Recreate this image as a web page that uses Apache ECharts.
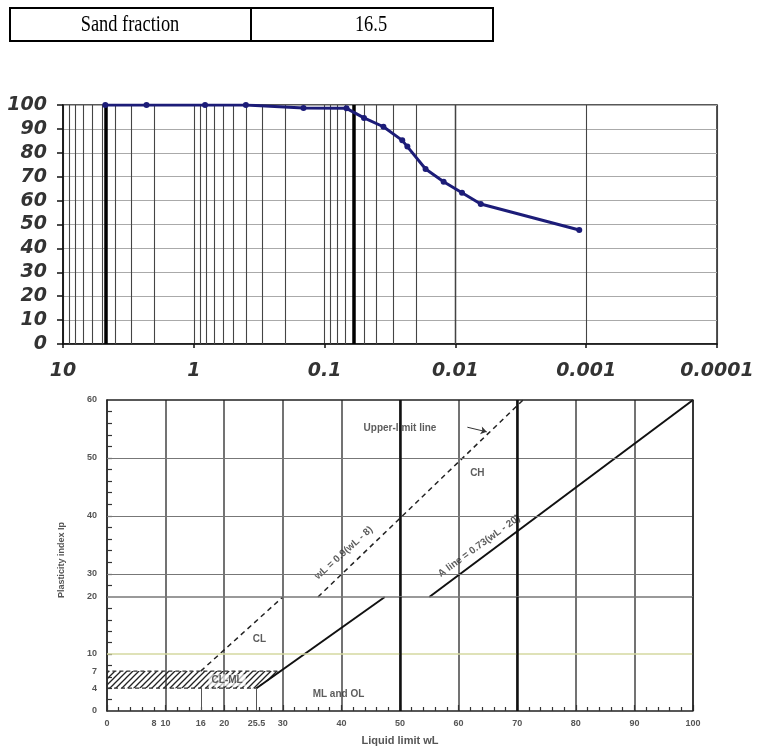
<!DOCTYPE html>
<html>
<head>
<meta charset="utf-8">
<script src="https://cdn.jsdelivr.net/npm/echarts@6/dist/echarts.min.js"></script>
<style>
html, body { margin: 0; padding: 0; background: #fff; }
#main { width: 759px; height: 747px; }
</style>
</head>
<body>
<div id="main"></div>
<script>
// table row above the charts
var tableLabel = 'Sand fraction';
var tableValue = '16.5';

// grading curve: particle size (mm) vs percent passing
var grainSize = [4.75, 2.3, 0.82, 0.4, 0.145, 0.068, 0.05, 0.0355, 0.0255, 0.0233, 0.0169, 0.0123, 0.0089, 0.0064, 0.00113];
var passing   = [100, 100, 100, 100, 98.7, 98.6, 94.6, 90.9, 85.2, 82.6, 73.2, 67.9, 63.3, 58.6, 47.7];
var boundarySizes = [4.75, 0.06, 0.002];
var minorFactors = [2, 3, 4, 5, 6, 7, 8, 9];
var decades = [1, 0.1, 0.01, 0.001, 0.0001];

// plasticity chart
var llLabels = [0, 8, 10, 16, 20, 25.5, 30, 40, 50, 60, 70, 80, 90, 100];
var piLabelsLow = [0, 4, 7, 10, 20];
var piLabelsHigh = [30, 40, 50, 60];
var piTicksLow = [2, 4, 6, 8, 10, 12, 14, 16, 18];
var piTicksHigh = [28, 30, 32, 34, 36, 38, 40, 42, 44, 46, 48, 50, 52, 54, 56, 58];
var aLineLow = [[25.5, 4], [47.4, 20]];
var aLineHigh = [[55, 26], [100, 60]];
var uLineLow = [[16, 7], [30, 20]];
var uLineHigh = [[36, 26], [71, 60]];
var hatchZone = [[0, 4], [25.5, 4], [29.6, 7], [0, 7]];
var notesLow = [
  { text: 'CL', at: [26, 12.6] },
  { text: 'CL-ML', at: [20.5, 5.4], bg: true },
  { text: 'ML and OL', at: [39.5, 3] }
];
var notesHigh = [
  { text: 'Upper-limit line', at: [50, 55.2] },
  { text: 'CH', at: [63.2, 47.4] },
  { text: 'A line = 0.73(wL - 20)', at: [63.5, 34.8], rotate: 36 },
  { text: 'wL = 0.9(wL - 8)', at: [40.4, 33.6], rotate: 42 }
];

var myChart = echarts.init(document.getElementById('main'));

// diagonal hatching for the CL-ML band
var hatch = document.createElement('canvas');
hatch.width = 6; hatch.height = 6;
var hc = hatch.getContext('2d');
hc.strokeStyle = '#222';
hc.lineWidth = 1.3;
hc.beginPath();
hc.moveTo(0, 6); hc.lineTo(6, 0);
hc.moveTo(-1, 1); hc.lineTo(1, -1);
hc.moveTo(5, 7); hc.lineTo(7, 5);
hc.stroke();

var minorLines = [];
for (var i = 0; i < decades.length; i++) {
  for (var j = 0; j < minorFactors.length; j++) {
    minorLines.push({ xAxis: minorFactors[j] * decades[i], lineStyle: { color: '#444', width: 1.1, type: 'solid' } });
  }
}
boundarySizes.forEach(function (b) {
  minorLines.push({ xAxis: b, lineStyle: { color: '#000', width: 3.5, type: 'solid' } });
});

var gradeFont = { fontFamily: 'DejaVu Sans', fontStyle: 'italic', fontWeight: 'bold', fontSize: 19, color: '#333' };
var smallFont = { fontFamily: 'Liberation Sans', fontWeight: 'bold', fontSize: 9, color: '#555' };

function noteData(list) {
  return list.map(function (n) {
    return {
      value: n.at,
      label: {
        formatter: n.text,
        rotate: n.rotate || 0,
        backgroundColor: n.bg ? 'rgba(255,255,255,0.85)' : 'transparent',
        padding: n.bg ? [1, 3] : 0
      }
    };
  });
}

var noteLabel = {
  show: true, position: 'inside', fontFamily: 'Liberation Sans', fontWeight: 'bold',
  fontSize: 10, color: '#333'
};

var option = {
  animation: false,
  backgroundColor: '#fff',
  graphic: [
    { type: 'rect', shape: { x: 10, y: 8, width: 483, height: 33 }, style: { fill: 'none', stroke: '#000', lineWidth: 2 } },
    { type: 'line', shape: { x1: 251, y1: 8, x2: 251, y2: 41 }, style: { stroke: '#000', lineWidth: 2 } },
    { type: 'text', x: 130, y: 25, scaleX: 0.8, style: { text: tableLabel, fontFamily: 'Liberation Serif', fontSize: 23, fill: '#000', align: 'center', verticalAlign: 'middle' } },
    { type: 'text', x: 371, y: 25, scaleX: 0.8, style: { text: tableValue, fontFamily: 'Liberation Serif', fontSize: 23, fill: '#000', align: 'center', verticalAlign: 'middle' } },
    { type: 'text', x: 62, y: 560, rotation: Math.PI / 2, style: { text: 'Plasticity index Ip', fontFamily: 'Liberation Sans', fontWeight: 'bold', fontSize: 9, fill: '#555', align: 'center', verticalAlign: 'middle' } }
  ],
  grid: [
    { left: 63, top: 105, width: 654, height: 239, show: true, borderColor: '#222', borderWidth: 1.5 },
    { left: 107, top: 400, width: 586, height: 197 },
    { left: 107, top: 597, width: 586, height: 116 }
  ],
  xAxis: [
    {
      gridIndex: 0, type: 'log', logBase: 10, min: 0.0001, max: 10, inverse: true,
      axisLine: { show: true, lineStyle: { color: '#111', width: 1.5 } },
      axisTick: { show: true, length: 4, lineStyle: { color: '#111', width: 1.5 } },
      axisLabel: Object.assign({ margin: 18, formatter: function (v) { return String(+(+v).toPrecision(2)); } }, gradeFont),
      splitLine: { show: true, lineStyle: { color: '#444', width: 1.1 } }
    },
    {
      gridIndex: 1, type: 'value', min: 0, max: 100, interval: 10, position: 'top',
      axisLine: { show: true, lineStyle: { color: '#222', width: 1.5 } }, axisTick: { show: false }, axisLabel: { show: false },
      splitLine: { show: true, lineStyle: { color: '#444', width: 1.5 } }
    },
    {
      gridIndex: 2, type: 'value', min: 0, max: 100, interval: 10,
      axisLine: { show: true, lineStyle: { color: '#222', width: 1.5 } },
      axisTick: { show: true, inside: true, length: 6, lineStyle: { color: '#333', width: 1.2 } },
      minorTick: { show: true, splitNumber: 5, length: 4, lineStyle: { color: '#333', width: 1.2 } },
      axisLabel: Object.assign({ customValues: llLabels, margin: 8 }, smallFont),
      splitLine: { show: true, lineStyle: { color: '#444', width: 1.5 } },
      name: 'Liquid limit wL', nameLocation: 'middle', nameGap: 24,
      nameTextStyle: { fontFamily: 'Liberation Sans', fontWeight: 'bold', fontSize: 11, color: '#555' }
    }
  ],
  yAxis: [
    {
      gridIndex: 0, type: 'value', min: 0, max: 100, interval: 10,
      axisLine: { show: true, lineStyle: { color: '#111', width: 1.5 } },
      axisTick: { show: true, length: 6, lineStyle: { color: '#111', width: 1.5 } },
      axisLabel: Object.assign({ margin: 16 }, gradeFont),
      splitLine: { show: true, lineStyle: { color: '#aaa', width: 1.2 } }
    },
    {
      gridIndex: 1, type: 'value', min: 26, max: 60,
      axisLine: { show: true, lineStyle: { color: '#222', width: 1.5 } },
      axisTick: { show: true, inside: true, length: 5, customValues: piTicksHigh, lineStyle: { color: '#333', width: 1.2 } },
      axisLabel: Object.assign({ customValues: piLabelsHigh, margin: 10 }, smallFont),
      splitLine: { show: false }
    },
    {
      gridIndex: 2, type: 'value', min: 0, max: 20,
      axisLine: { show: true, lineStyle: { color: '#222', width: 1.5 } },
      axisTick: { show: true, inside: true, length: 5, customValues: piTicksLow, lineStyle: { color: '#333', width: 1.2 } },
      axisLabel: Object.assign({ customValues: piLabelsLow, margin: 10 }, smallFont),
      splitLine: { show: false }
    }
  ],
  series: [
    {
      type: 'line', xAxisIndex: 0, yAxisIndex: 0, z: 5,
      data: grainSize.map(function (d, k) { return [d, passing[k]]; }),
      symbol: 'circle', symbolSize: 6,
      lineStyle: { color: '#1c1c78', width: 3 },
      itemStyle: { color: '#1c1c78' },
      markLine: { silent: true, symbol: ['none', 'none'], label: { show: false }, data: minorLines, z: 1 }
    },
    {
      type: 'line', xAxisIndex: 1, yAxisIndex: 1, data: aLineHigh, symbol: 'none',
      lineStyle: { color: '#111', width: 2 },
      markLine: {
        silent: true, symbol: ['none', 'none'], label: { show: false },
        data: [
          { yAxis: 30, lineStyle: { color: '#777', width: 1.2, type: 'solid' } },
          { yAxis: 40, lineStyle: { color: '#777', width: 1.2, type: 'solid' } },
          { yAxis: 50, lineStyle: { color: '#777', width: 1.2, type: 'solid' } },
          { xAxis: 50, lineStyle: { color: '#111', width: 2.5, type: 'solid' } },
          { xAxis: 70, lineStyle: { color: '#111', width: 2.5, type: 'solid' } },
          { xAxis: 100, lineStyle: { color: '#222', width: 1.5, type: 'solid' } },
          [{ coord: [61.5, 55.3], symbol: 'none' }, { coord: [64.8, 54.5], symbol: 'arrow', symbolSize: 6, lineStyle: { color: '#333', width: 1, type: 'solid' } }]
        ]
      }
    },
    {
      type: 'line', xAxisIndex: 1, yAxisIndex: 1, data: uLineHigh, symbol: 'none',
      lineStyle: { color: '#222', width: 1.5, type: [5, 4] }
    },
    {
      type: 'scatter', xAxisIndex: 1, yAxisIndex: 1, symbolSize: 1,
      itemStyle: { color: 'transparent' }, label: noteLabel, data: noteData(notesHigh)
    },
    {
      type: 'custom', xAxisIndex: 2, yAxisIndex: 2, z: 3,
      renderItem: function (params, api) {
        var pts = hatchZone.map(function (p) { return api.coord(p); });
        return {
          type: 'polygon', shape: { points: pts },
          style: { fill: { image: hatch, repeat: 'repeat' }, stroke: '#333', lineWidth: 1.2, lineDash: [4, 3] }
        };
      },
      data: [0]
    },
    {
      type: 'line', xAxisIndex: 2, yAxisIndex: 2, data: aLineLow, symbol: 'none', z: 4,
      lineStyle: { color: '#111', width: 2 },
      markLine: {
        silent: true, symbol: ['none', 'none'], label: { show: false },
        data: [
          { yAxis: 10, lineStyle: { color: '#d4d8a0', width: 1.5, type: 'solid' } },
          { yAxis: 20, lineStyle: { color: '#777', width: 1.5, type: 'solid' } },
          { xAxis: 50, lineStyle: { color: '#111', width: 2.5, type: 'solid' } },
          { xAxis: 70, lineStyle: { color: '#111', width: 2.5, type: 'solid' } },
          { xAxis: 100, lineStyle: { color: '#222', width: 1.5, type: 'solid' } },
          [{ coord: [16, 0] }, { coord: [16, 4], lineStyle: { color: '#555', width: 1, type: 'solid' } }],
          [{ coord: [25.5, 0] }, { coord: [25.5, 4], lineStyle: { color: '#555', width: 1, type: 'solid' } }]
        ]
      }
    },
    {
      type: 'line', xAxisIndex: 2, yAxisIndex: 2, data: uLineLow, symbol: 'none', z: 4,
      lineStyle: { color: '#222', width: 1.5, type: [5, 4] }
    },
    {
      type: 'scatter', xAxisIndex: 2, yAxisIndex: 2, symbolSize: 1, z: 6,
      itemStyle: { color: 'transparent' }, label: noteLabel, data: noteData(notesLow)
    }
  ]
};

myChart.setOption(option);
</script>
</body>
</html>
